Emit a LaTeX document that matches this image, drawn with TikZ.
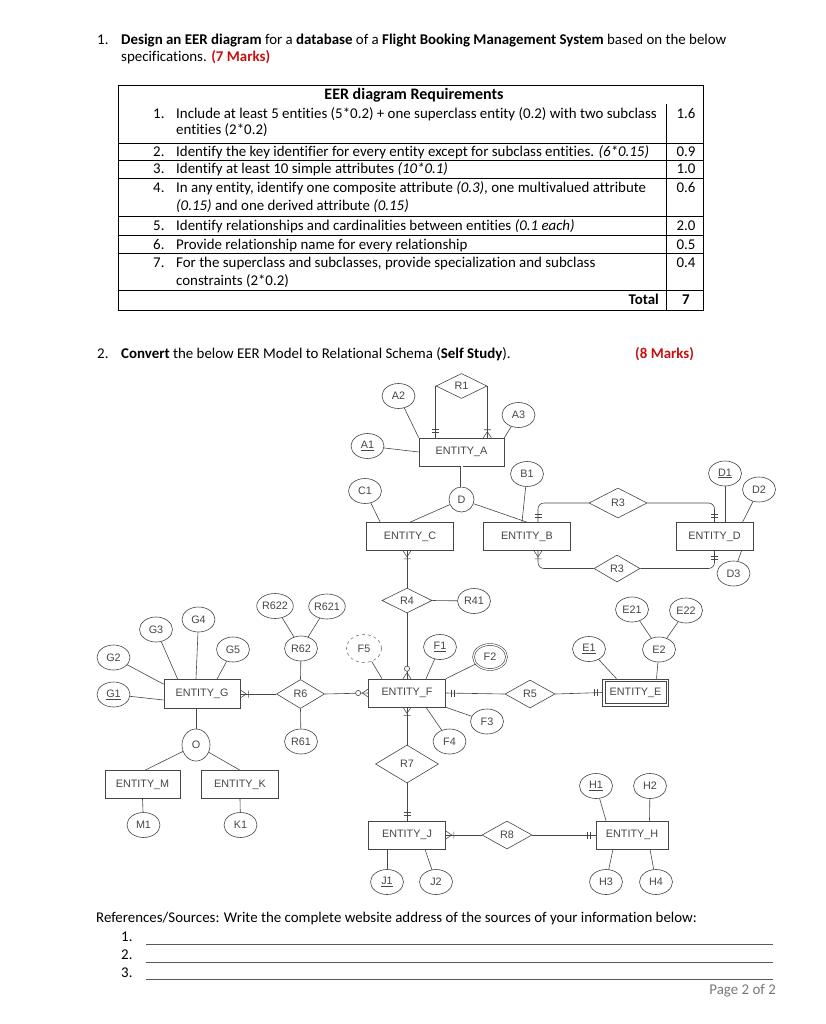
\documentclass[tikz,border=0pt]{standalone}
\usepackage{fontspec}
\setmainfont{Carlito}[Ligatures=NoCommon]
\newfontfamily\diafont{Liberation Sans}
\usetikzlibrary{shapes.geometric}

\definecolor{markred}{RGB}{200,16,16}
\definecolor{linegray}{RGB}{70,70,70}
\definecolor{pagegray}{RGB}{120,120,120}

\tikzset{
  body/.style={anchor=base west, inner sep=0pt, font=\fontsize{14.9}{17}\selectfont},
  conn/.style={draw=linegray, line width=0.6pt},
  entity/.style={draw=linegray, line width=0.6pt, rectangle, minimum width=77pt, minimum height=28pt,
    inner sep=0pt, text=linegray, font=\diafont\fontsize{10.8}{12}\selectfont},
  attr/.style={draw=linegray, line width=0.6pt, ellipse, minimum width=33pt, minimum height=25pt,
    inner sep=0pt, text=linegray, font=\diafont\fontsize{10.8}{12}\selectfont},
  rel/.style={draw=linegray, line width=0.6pt, diamond, minimum width=50pt, minimum height=27pt,
    inner sep=0pt, text=linegray, font=\diafont\fontsize{10.8}{12}\selectfont},
  pics/onlyone/.style={code={\draw[conn] (5,-3.5) -- (5,3.5) (8,-3.5) -- (8,3.5);}},
  pics/onemany/.style={code={\draw[conn] (0,-4) -- (6,0) -- (0,4) (8,-3.5) -- (8,3.5);}},
  pics/zeromany/.style={code={\draw[conn] (0,-4) -- (6,0) -- (0,4); \draw[conn, fill=white] (10,0) circle (2.6);}}
}

\begin{document}
\begin{tikzpicture}[x=1pt, y=-1pt]
\path[use as bounding box, fill=white] (0,0) rectangle (826,1024);

% Question 1
\node[body] (q1n) at (97,45) {1.};
\node[body] (q1a) at (121,45) {\textbf{Design an EER diagram} for a \textbf{database} of a \textbf{Flight Booking Management System} based on the below};
\node[body] (q1b) at (121,62) {specifications. \textcolor{markred}{\textbf{(7 Marks)}}};

% Table
\draw (118,85) rectangle (703,310);
\draw (666,104) -- (666,310);
\foreach \y in {143,160,178,216,235,253,290}
  \draw (118,\y) -- (703,\y);

\node[body, anchor=base, font=\fontsize{16}{18}\selectfont] (thead) at (414,100) {\textbf{EER diagram Requirements}};
\foreach \n/\y in {1/118.5, 2/156.5, 3/173.5, 4/192.5, 5/230.5, 6/249.5, 7/267.5}
  \node[body] (num\n) at (153,\y) {\n.};
\node[body] (t1a) at (176,118.5) {Include at least 5 entities (5*0.2) + one superclass entity (0.2) with two subclass};
\node[body] (t1b) at (176,134.5) {entities (2*0.2)};
\node[body] (t2) at (176,156.5) {Identify the key identifier for every entity except for subclass entities. \textit{(6*0.15)}};
\node[body] (t3) at (176,173.5) {Identify at least 10 simple attributes \textit{(10*0.1)}};
\node[body] (t4a) at (176,192.5) {In any entity, identify one composite attribute \textit{(0.3)}, one multivalued attribute};
\node[body] (t4b) at (176,210.5) {\textit{(0.15)} and one derived attribute \textit{(0.15)}};
\node[body] (t5) at (176,230.5) {Identify relationships and cardinalities between entities \textit{(0.1 each)}};
\node[body] (t6) at (176,249.5) {Provide relationship name for every relationship};
\node[body] (t7a) at (176,267.5) {For the superclass and subclasses, provide specialization and subclass};
\node[body] (t7b) at (176,285.5) {constraints (2*0.2)};
\foreach \v/\y in {1.6/118.5, 0.9/156.5, 1.0/173.5, 0.6/192.5, 2.0/230.5, 0.5/249.5, 0.4/267.5}
  \node[body, anchor=base] at (686,\y) {\v};
\node[body, anchor=base east] (total) at (659,304.5) {\textbf{Total}};
\node[body, anchor=base] (totv) at (686,304.5) {\textbf{7}};

% Question 2
\node[body] (q2n) at (97,358.5) {2.};
\node[body] (q2a) at (121,358.5) {\textbf{Convert} the below EER Model to Relational Schema (\textbf{Self Study}).};
\node[body] (q2m) at (635,358.5) {\textcolor{markred}{\textbf{(8 Marks)}}};

% Entities
\node[entity, minimum width=85pt] (EA) at (461.5,452) {ENTITY\_A};
\node[entity, minimum width=87pt] (EC) at (410,536.5) {ENTITY\_C};
\node[entity, minimum width=87pt] (EB) at (527,536.5) {ENTITY\_B};
\node[entity] (ED) at (714.5,536.5) {ENTITY\_D};
\node[entity] (EF) at (407,693) {ENTITY\_F};
\node[entity, minimum width=66pt, minimum height=27pt] (EE) at (635.5,692.5) {ENTITY\_E};
\draw[conn] ([shift={(3pt,3pt)}]EE.south west) rectangle ([shift={(-3pt,-3pt)}]EE.north east);
\node[entity, minimum width=76pt, minimum height=29pt] (EG) at (202,694) {ENTITY\_G};
\node[entity, minimum width=75pt] (EM) at (142.5,784.5) {ENTITY\_M};
\node[entity] (EK) at (240,784.5) {ENTITY\_K};
\node[entity] (EJ) at (407,835) {ENTITY\_J};
\node[entity, minimum width=72pt] (EH) at (632,835) {ENTITY\_H};

% Relationships
\node[rel, minimum width=51pt, minimum height=25pt] (R1) at (461.5,386) {R1};
\node[rel, minimum width=58pt, minimum height=30pt] (R3a) at (618,503) {R3};
\node[rel, minimum width=46pt, minimum height=27pt] (R3b) at (617,568.5) {R3};
\node[rel, minimum height=25pt] (R4) at (407,600.5) {R4};
\node[rel, minimum height=28pt] (R5) at (530,694) {R5};
\node[rel, minimum width=48pt, minimum height=29pt] (R6) at (300.5,694) {R6};
\node[rel, minimum width=63pt, minimum height=38pt] (R7) at (407,764) {R7};
\node[rel, minimum height=28pt] (R8) at (507,835) {R8};

% Attributes
\foreach \n/\x/\y in {A2/398.5/396, A3/518.5/415, B1/527/474, C1/365/491, D2/759/489.5, D3/733.5/573.5,
    E2/659/649.5, E21/632/609.5, E22/686/610.5, F3/487/721.5, F4/449.5/741.5,
    G2/113.5/657.5, G3/156/629.5, G4/198.5/619.5, G5/233/649.5,
    R41/474/601, R61/301/741.5, R62/301/648.5, R621/327/606.5, R622/275/606,
    H2/650/786, H3/606/882, H4/656/882, J2/436/882, M1/143.5/825, K1/240.5/825}
  \node[attr] (\n) at (\x,\y) {\n};
\foreach \n/\x/\y in {A1/367.5/446, D1/725/473.5, E1/589/649, F1/440/647, G1/113.5/694.5, H1/596/786, J1/387/882}
  \node[attr] (\n) at (\x,\y) {\underline{\n}};
\node[attr, double, double distance=1.2pt] (F2) at (490,657) {F2};
\node[attr, dashed, draw=pagegray, minimum width=35pt, minimum height=28pt] (F5) at (364,648.5) {F5};

% Specialisation circles
\node[attr, circle, minimum size=25pt] (D) at (461.5,499.5) {D};
\node[attr, minimum width=28pt, minimum height=32pt] (O) at (196,745) {O};

% Attribute lines
\draw[conn] (A1) -- (EA.west);
\draw[conn] (A2) -- (EA.north west);
\draw[conn] (A3) -- (EA.north east);
\draw[conn] (C1) -- ([xshift=14pt]EC.north west);
\draw[conn] (B1) -- ([xshift=-5pt]EB.north);
\draw[conn] (D1) -- ([xshift=10.5pt]ED.north);
\draw[conn] (D2) -- ([xshift=28pt]ED.north);
\draw[conn] (D3) -- ([xshift=27pt]ED.south);
\draw[conn] (E1) -- ([xshift=-19pt]EE.north);
\draw[conn] (E2) -- ([xshift=21pt]EE.north);
\draw[conn] (E21) -- (E2);
\draw[conn] (E22) -- (E2);
\draw[conn] (F5) -- ([xshift=-25pt]EF.north);
\draw[conn] (F1) -- ([xshift=19pt]EF.north);
\draw[conn] (F2) -- (EF.north east);
\draw[conn] (F3) -- (EF.south east);
\draw[conn] (F4) -- ([xshift=19pt]EF.south);
\draw[conn] (G1) -- ([yshift=-6pt]EG.west);
\draw[conn] (G2) -- ([yshift=-5pt]EG.north west);
\draw[conn] (G3) -- ([xshift=14pt]EG.north west);
\draw[conn] (G4) -- ([xshift=-6pt]EG.north);
\draw[conn] (G5) -- ([xshift=15pt]EG.north);
\draw[conn] (R62) -- (R6.north);
\draw[conn] (R621) -- (R62);
\draw[conn] (R622) -- (R62);
\draw[conn] (R61) -- (R6.south);
\draw[conn] (R41) -- (R4.east);
\draw[conn] (M1) -- (EM.south);
\draw[conn] (K1) -- (EK.south);
\draw[conn] (H1) -- ([xshift=-26pt]EH.north);
\draw[conn] (H2) -- ([xshift=17.5pt]EH.north);
\draw[conn] (H3) -- ([xshift=-19pt]EH.south);
\draw[conn] (H4) -- ([xshift=18pt]EH.south);
\draw[conn] (J1) -- ([xshift=-20pt]EJ.south);
\draw[conn] (J2) -- ([xshift=18pt]EJ.south);

% Specialisation
\draw[conn, double, double distance=2pt] (EA.south) -- (D.north);
\draw[conn] (D) -- (EC.north);
\draw[conn] (D) -- (EB.north);
\draw[conn] ([xshift=-6pt]EG.south) -- (O.north);
\draw[conn] (O) -- ([xshift=2.5pt]EM.north);
\draw[conn] (O) -- (EK.north);

% Relationship lines
\draw[conn] (R1.west) -- (EA.north -| R1.west);
\draw[conn] (R1.east) -- (EA.north -| R1.east);
\pic[rotate=90] at (EA.north -| R1.west) {onlyone};
\pic[rotate=90] at (EA.north -| R1.east) {onemany};

\draw[conn, rounded corners=6pt] (R3a.west) -| ([xshift=11pt]EB.north);
\draw[conn, rounded corners=6pt] (R3a.east) -| (ED.north);
\draw[conn, rounded corners=6pt] (R3b.west) -| ([xshift=11pt]EB.south);
\draw[conn, rounded corners=6pt] (R3b.east) -| (ED.south);
\pic[rotate=90] at ([xshift=11pt]EB.north) {onlyone};
\pic[rotate=-90] at ([xshift=11pt]EB.south) {onemany};
\pic[rotate=90] at (ED.north) {onlyone};
\pic[rotate=-90] at (ED.south) {onlyone};

\draw[conn] (EC.south -| R4) -- (R4.north);
\draw[conn] (R4.south) -- (EF.north);
\pic[rotate=-90] at (EC.south -| R4) {onemany};
\pic[rotate=90] at (EF.north) {zeromany};

\draw[conn] (EF.east) -- (R5.west);
\draw[conn] (R5.east) -- (EE.west);
\pic at (EF.east) {onlyone};
\pic[rotate=180] at (EE.west) {onlyone};

\draw[conn] (EG.east) -- (R6.west);
\draw[conn] (R6.east) -- (EF.west);
\pic at (EG.east) {onemany};
\pic[rotate=180] at (EF.west) {zeromany};

\draw[conn] (R7.north) -- (EF.south);
\draw[conn] (R7.south) -- (EJ.north);
\pic[rotate=-90] at (EF.south) {onemany};
\pic[rotate=90] at (EJ.north) {onlyone};

\draw[conn] (EJ.east) -- (R8.west);
\draw[conn] (R8.east) -- (EH.west);
\pic at (EJ.east) {onemany};
\pic[rotate=180] at (EH.west) {onlyone};

% References
\node[body] (refs) at (96,922.5) {References/Sources: Write the complete website address of the sources of your information below:};
\foreach \n/\y in {1/941.5, 2/959.5, 3/977}
  \node[body] (ref\n) at (121,\y) {\n.};
\foreach \y in {944, 962, 979.5}
  \draw[black!65, line width=0.7pt] (146,\y) -- (773,\y);
\node[body, anchor=base east, text=pagegray] (page) at (776,994) {Page 2 of 2};
\end{tikzpicture}
\end{document}
